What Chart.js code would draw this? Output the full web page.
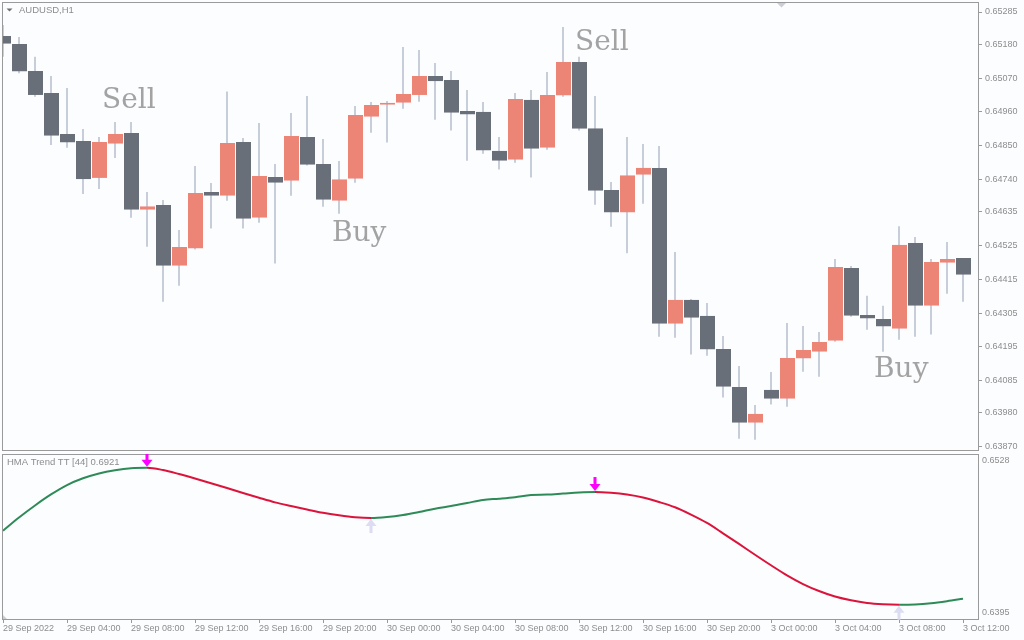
<!DOCTYPE html>
<html><head><meta charset="utf-8">
<script src="https://cdn.jsdelivr.net/npm/chart.js@4.4.1/dist/chart.umd.min.js"></script>
<style>
html,body{margin:0;padding:0;background:#fcfdff;overflow:hidden;}
#wrap{position:relative;width:1024px;height:640px;background:#fcfdff;}
canvas{position:absolute;left:0;}
#main{top:0;}
#ind{top:452px;}
</style></head><body>
<div id="wrap">
<canvas id="main" width="1024" height="452"></canvas>
<canvas id="ind" width="1024" height="188"></canvas>
</div>
<script>
// ---- data (AUDUSD H1, 29 Sep 2022 00:00 .. 3 Oct 2022 12:00) ----
const open = [0.65207,0.65181,0.65093,0.65021,0.64888,0.64865,0.64745,0.64856,0.64891,0.64641,
0.64657,0.64459,0.64515,0.64699,0.64687,0.64862,0.64615,0.64748,0.64736,0.64878,
0.64790,0.64671,0.64742,0.64944,0.64983,0.64990,0.65015,0.65077,0.65064,0.64963,
0.64960,0.64833,0.64804,0.64999,0.64843,0.65013,0.65122,0.64907,0.64706,0.64632,
0.64755,0.64777,0.64270,0.64348,0.64296,0.64188,0.64064,0.63948,0.64055,0.64026,
0.64157,0.64179,0.64215,0.64452,0.64299,0.64286,0.64254,0.64533,0.64329,0.64469,
0.64484];
const high = [0.65243,0.65204,0.65139,0.65077,0.65038,0.64904,0.64878,0.64927,0.64927,0.64699,
0.64673,0.64575,0.64784,0.64728,0.65026,0.64875,0.64924,0.64790,0.64956,0.65012,
0.64872,0.64800,0.64979,0.64992,0.64995,0.65171,0.65161,0.65119,0.65093,0.65031,
0.64992,0.64878,0.65021,0.65031,0.65090,0.65236,0.65139,0.65012,0.64732,0.64878,
0.64855,0.64849,0.64504,0.64351,0.64338,0.64230,0.64133,0.64006,0.64113,0.64273,
0.64263,0.64243,0.64481,0.64458,0.64361,0.64329,0.64588,0.64553,0.64481,0.64536,
0.64484];
const low = [0.65139,0.65086,0.65009,0.64852,0.64843,0.64693,0.64709,0.64810,0.64615,0.64521,
0.64342,0.64394,0.64512,0.64580,0.64671,0.64580,0.64599,0.64466,0.64687,0.64785,
0.64651,0.64628,0.64729,0.64892,0.64860,0.64970,0.64993,0.64934,0.64899,0.64801,
0.64824,0.64772,0.64794,0.64746,0.64837,0.65009,0.64899,0.64658,0.64586,0.64500,
0.64661,0.64228,0.64225,0.64170,0.64166,0.64030,0.63896,0.63893,0.64007,0.64000,
0.64114,0.64098,0.64212,0.64293,0.64251,0.64179,0.64218,0.64228,0.64235,0.64368,
0.64342];
const close = [0.65182,0.65091,0.65015,0.64882,0.64860,0.64741,0.64862,0.64888,0.64641,0.64653,
0.64459,0.64520,0.64696,0.64687,0.64859,0.64612,0.64751,0.64729,0.64881,0.64788,
0.64674,0.64741,0.64950,0.64982,0.64990,0.65018,0.65077,0.65060,0.64957,0.64951,
0.64834,0.64801,0.65002,0.64840,0.65015,0.65122,0.64905,0.64703,0.64632,0.64754,
0.64778,0.64270,0.64348,0.64290,0.64186,0.64065,0.63948,0.63977,0.64026,0.64159,
0.64185,0.64211,0.64455,0.64296,0.64287,0.64261,0.64527,0.64329,0.64471,0.64481,
0.64430];
const hma = [0.64666,0.64781,0.64886,0.64982,0.65064,0.65123,0.65165,0.65193,0.65211,0.65215,
0.65195,0.65160,0.65121,0.65080,0.65038,0.64995,0.64953,0.64913,0.64881,0.64851,
0.64822,0.64800,0.64783,0.64776,0.64785,0.64803,0.64829,0.64858,0.64881,0.64907,
0.64934,0.64945,0.64958,0.64977,0.64981,0.64990,0.64999,0.65003,0.64996,0.64981,
0.64955,0.64916,0.64870,0.64806,0.64733,0.64643,0.64550,0.64456,0.64364,0.64276,
0.64200,0.64139,0.64091,0.64058,0.64035,0.64024,0.64020,0.64022,0.64032,0.64050,
0.64072];
const timeLabels = ["29 Sep 2022","29 Sep 04:00","29 Sep 08:00","29 Sep 12:00","29 Sep 16:00","29 Sep 20:00",
"30 Sep 00:00","30 Sep 04:00","30 Sep 08:00","30 Sep 12:00","30 Sep 16:00","30 Sep 20:00",
"3 Oct 00:00","3 Oct 04:00","3 Oct 08:00","3 Oct 12:00"];
const priceTicks = [0.65285,0.65180,0.65070,0.64960,0.64850,0.64740,0.64635,0.64525,0.64415,0.64305,0.64195,0.64085,0.63980,0.63870];
const hmaTicks = [0.6528,0.6395];
const symbolTitle = "AUDUSD,H1";
const indicatorTitle = "HMA Trend TT [44] 0.6921";

// ---- styles ----
const BG='#fcfdff', BULL='#ec8576', BEAR='#696f78', WICK='#c8cdda', FRAME='#9a9a9a', TXT='#8d8d8d';
const GREEN='#2e8b57', RED='#dc143c';
const HOURS_PER_LABEL = 4;
Chart.defaults.font.family = "'Liberation Sans', Arial, sans-serif";
Chart.defaults.font.size = 9;
Chart.defaults.color = TXT;

const idx = open.map((_, i) => i);
const X_MIN = -0.0625, X_MAX = 60.9375;

const bgPlugin = {
  id: 'bg',
  beforeDraw(c){ const ctx=c.ctx; ctx.save(); ctx.fillStyle=BG; ctx.fillRect(0,0,c.width,c.height); ctx.restore(); },
  afterDatasetsDraw(c){
    const a=c.chartArea, ctx=c.ctx; ctx.save(); ctx.fillStyle=FRAME;
    ctx.fillRect(a.left, a.top, a.right-a.left+1, 1);
    ctx.fillRect(a.left, a.bottom-1, a.right-a.left+1, 1);
    ctx.fillRect(a.left, a.top, 1, a.bottom-a.top);
    ctx.fillRect(a.right, a.top, 1, a.bottom-a.top);
    ctx.restore();
  }
};

const mainDeco = {
  id: 'mainDeco',
  afterDraw(c, args, opts){
    const ctx=c.ctx, xs=c.scales.x, ys=c.scales.y;
    ctx.save();
    // symbol title
    ctx.fillStyle='#6e6e6e';
    ctx.beginPath(); ctx.moveTo(6.5,8.5); ctx.lineTo(12.5,8.5); ctx.lineTo(9.5,11.5); ctx.closePath(); ctx.fill();
    ctx.font="9.5px 'Liberation Sans', Arial, sans-serif"; ctx.fillStyle=TXT; ctx.textBaseline='middle'; ctx.textAlign='left';
    ctx.fillText(symbolTitle, 19, 10.5);
    // chart shift marker
    ctx.fillStyle='#c9cdd6';
    ctx.beginPath(); ctx.moveTo(777,3); ctx.lineTo(786,3); ctx.lineTo(781.5,7.5); ctx.closePath(); ctx.fill();
    // signal words
    ctx.font="28px 'DejaVu Serif', 'Liberation Serif', serif"; ctx.fillStyle='#a3a3a3'; ctx.textBaseline='alphabetic';
    opts.items.forEach(it => ctx.fillText(it.text, xs.getPixelForValue(it.at), ys.getPixelForValue(it.price)));
    ctx.restore();
  }
};

new Chart(document.getElementById('main'), {
  type: 'bar',
  data: { datasets: [
    { label:'body', data: idx.map(i => ({x:i, y:[open[i], close[i]]})),
      backgroundColor: idx.map(i => close[i] >= open[i] ? BULL : BEAR),
      borderColor: BG, borderWidth: {left:1, right:0, top:0, bottom:0}, borderSkipped: false,
      barThickness: 16, grouped: false, inflateAmount: 0, order: 0 },
    { label:'wick', data: idx.map(i => ({x:i, y:[low[i], high[i]]})),
      backgroundColor: WICK, borderWidth: 0, barThickness: 2, grouped: false, inflateAmount: 0, order: 1 }
  ]},
  options: {
    responsive:false, animation:false, devicePixelRatio:1,
    layout:{ padding:{left:2, top:2, right:0, bottom:1} },
    plugins:{ legend:{display:false}, tooltip:{enabled:false},
      mainDeco:{ items:[
        {text:'Sell', at:6.19, price:0.64974},
        {text:'Buy', at:20.56, price:0.64540},
        {text:'Sell', at:35.75, price:0.65160},
        {text:'Buy', at:54.44, price:0.64097}
      ]}
    },
    scales:{
      x:{ type:'linear', min:X_MIN, max:X_MAX, offset:false, display:false },
      y:{ position:'right', min:0.638560, max:0.653176, beginAtZero:false,
          afterBuildTicks(s){ s.ticks = priceTicks.map(v => ({value:v})); },
          afterFit(s){ s.width = 46; s.paddingTop = 0; s.paddingBottom = 0; },
          ticks:{ callback:v => Number(v).toFixed(5), padding:3, color:TXT, autoSkip:false },
          grid:{ drawOnChartArea:false, drawTicks:true, tickLength:4, color:FRAME },
          border:{ display:false } }
    }
  },
  plugins:[bgPlugin, mainDeco]
});

const indDeco = {
  id:'indDeco',
  afterDatasetsDraw(c){
    const ctx=c.ctx, xs=c.scales.x, ys=c.scales.y, a=c.chartArea;
    ctx.save();
    ctx.beginPath(); ctx.rect(a.left, a.top, a.right-a.left, a.bottom-a.top); ctx.clip();
    for (let i=1;i<hma.length-1;i++){
      const up0 = hma[i] >= hma[i-1], up1 = hma[i+1] >= hma[i];
      if (up0 === up1) continue;
      const x = Math.round(xs.getPixelForValue(i)), y = ys.getPixelForValue(hma[i]);
      if (up0 && !up1) { // peak -> sell arrow
        const t = y - 1;
        ctx.fillStyle='#ff00ff';
        ctx.fillRect(x-1.5, t-14, 3, 8);
        ctx.beginPath(); ctx.moveTo(x-5.5, t-7); ctx.lineTo(x+5.5, t-7); ctx.lineTo(x, t); ctx.closePath(); ctx.fill();
      } else { // trough -> buy arrow
        const t = y + 1;
        ctx.fillStyle='#dcdcf2';
        ctx.fillRect(x-1.5, t+6, 3, 8);
        ctx.beginPath(); ctx.moveTo(x-5.5, t+7); ctx.lineTo(x+5.5, t+7); ctx.lineTo(x, t); ctx.closePath(); ctx.fill();
      }
    }
    ctx.restore();
  },
  afterDraw(c){
    const ctx=c.ctx, a=c.chartArea;
    ctx.save();
    ctx.font="9.5px 'Liberation Sans', Arial, sans-serif"; ctx.fillStyle=TXT; ctx.textBaseline='middle'; ctx.textAlign='left';
    ctx.fillText(indicatorTitle, 7, a.top + 8.5);
    ctx.fillStyle='#c9cdd6';
    ctx.beginPath(); ctx.moveTo(a.left+1, a.bottom-5); ctx.lineTo(a.left+1, a.bottom-1); ctx.lineTo(a.left+5, a.bottom-1); ctx.closePath(); ctx.fill();
    ctx.restore();
  }
};

new Chart(document.getElementById('ind'), {
  type:'line',
  data:{ datasets:[{ label:'HMA', data: idx.map(i => ({x:i, y:hma[i]})),
    borderWidth:2, pointRadius:0, cubicInterpolationMode:'monotone', borderColor:GREEN,
    segment:{ borderColor: s => s.p1.parsed.y >= s.p0.parsed.y ? GREEN : RED } }]},
  options:{
    responsive:false, animation:false, devicePixelRatio:1,
    layout:{ padding:{left:2, top:2, right:0, bottom:0} },
    plugins:{ legend:{display:false}, tooltip:{enabled:false} },
    scales:{
      x:{ type:'linear', min:X_MIN, max:X_MAX, offset:false, position:'bottom',
          afterBuildTicks(s){ s.ticks = timeLabels.map((_, k) => ({value:k*HOURS_PER_LABEL})); },
          afterFit(s){ s.height = 20; s.paddingLeft = 0; s.paddingRight = 0; },
          ticks:{ autoSkip:false, maxRotation:0, minRotation:0, align:'start', padding:0, color:TXT,
                  callback:(v, k) => timeLabels[k] },
          grid:{ drawOnChartArea:false, drawTicks:true, tickLength:3, color:FRAME },
          border:{ display:false } },
      y:{ position:'right', min:0.638863, max:0.65335, beginAtZero:false,
          afterBuildTicks(s){ s.ticks = hmaTicks.map(v => ({value:v})); },
          afterFit(s){ s.width = 46; s.paddingTop = 0; s.paddingBottom = 0; },
          ticks:{ callback:v => Number(v).toFixed(4), padding:4, color:TXT, autoSkip:false },
          grid:{ drawOnChartArea:false, drawTicks:false },
          border:{ display:false } }
    }
  },
  plugins:[bgPlugin, indDeco]
});
</script>
</body></html>
